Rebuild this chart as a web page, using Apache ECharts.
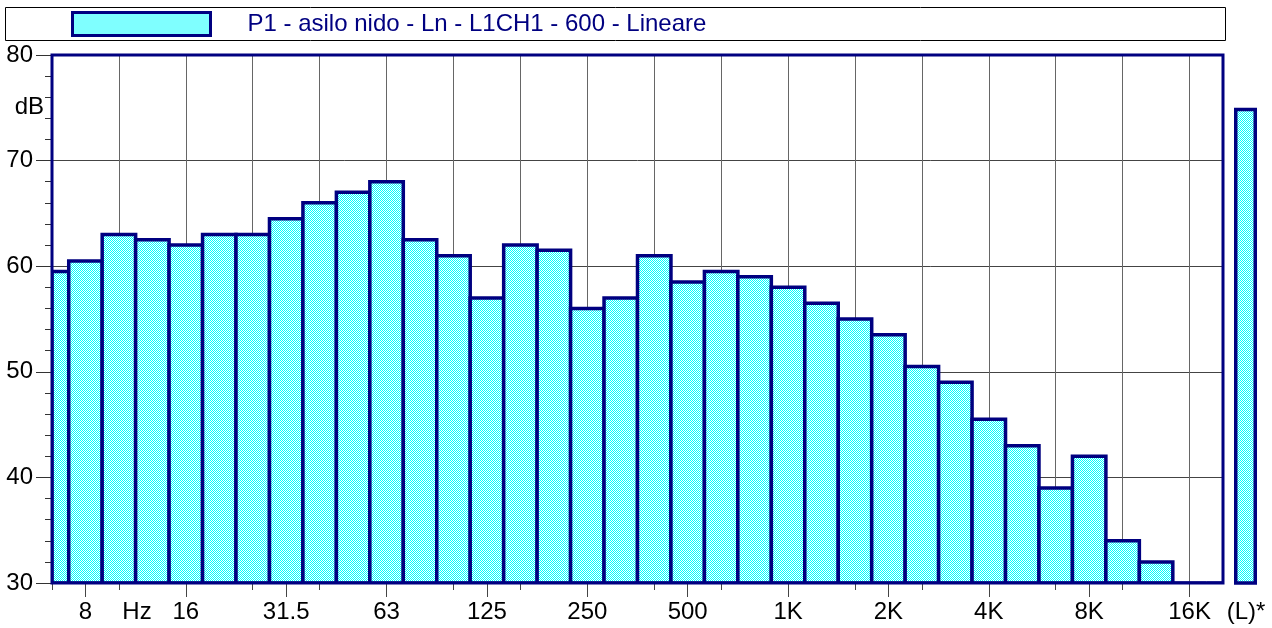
<!DOCTYPE html>
<html>
<head>
<meta charset="utf-8">
<script src="https://cdn.jsdelivr.net/npm/echarts@6/dist/echarts.min.js"></script>
<style>
  html, body { margin: 0; padding: 0; background: #fff; }
  #chart { width: 1272px; height: 628px; }
</style>
</head>
<body>
<div id="chart"></div>
<script>
// bande di terzo d'ottava
const bands = ['6.3', '8', '10', '12.5', '16', '20', '25', '31.5', '40', '50', '63', '80',
  '100', '125', '160', '200', '250', '315', '400', '500', '630', '800', '1K', '1.25K',
  '1.6K', '2K', '2.5K', '3.15K', '4K', '5K', '6.3K', '8K', '10K', '12.5K', '16K', '20K']
// etichette d'ottava mostrate sull'asse
const octaveLabels = ['8', '16', '31.5', '63', '125', '250', '500', '1K', '2K', '4K', '8K', '16K']
// livelli in dB
const levels = [59.5, 60.5, 63, 62.5, 62, 63, 63, 64.5, 66, 67, 68, 62.5,
  61, 57, 62, 61.5, 56, 57, 61, 58.5, 59.5, 59, 58, 56.5,
  55, 53.5, 50.5, 49, 45.5, 43, 39, 42, 34, 32, 30, 30]
// livello globale (L)*
const totalLabel = ['(L)*']
const totalLevel = [75]
const seriesName = 'P1 - asilo nido - Ln - L1CH1 - 600 - Lineare'

const FONT = '"Liberation Sans", Arial, sans-serif'
const NAVY = '#000080'
const Y_MIN = 30

// retino ciano/bianco
function makePattern() {
  const c = document.createElement('canvas')
  c.width = 2
  c.height = 2
  const ctx = c.getContext('2d')
  ctx.fillStyle = '#ffffff'
  ctx.fillRect(0, 0, 2, 2)
  ctx.fillStyle = '#00ffff'
  ctx.fillRect(0, 0, 1, 1)
  ctx.fillRect(1, 1, 1, 1)
  return { image: c, repeat: 'repeat' }
}
const pattern = makePattern()

// barre larghe una banda, tagliate al bordo del grafico
function renderBand(params, api) {
  const top = api.coord([api.value(0), api.value(1)])
  const base = api.coord([api.value(0), Y_MIN])
  const w = api.size([1, 0])[0]
  const cs = params.coordSys
  const shape = echarts.graphic.clipRectByRect(
    { x: top[0] - w / 2, y: top[1], width: w, height: base[1] - top[1] },
    { x: cs.x, y: cs.y, width: cs.width, height: cs.height }
  )
  return shape && { type: 'rect', shape: shape, style: api.style() }
}

const chart = echarts.init(document.getElementById('chart'), null, { renderer: 'canvas' })

const option = {
  animation: false,
  textStyle: { fontFamily: FONT },
  legend: {
    left: 71,
    top: 11,
    padding: 0,
    itemWidth: 138,
    itemHeight: 23,
    icon: 'rect',
    selectedMode: false,
    data: [seriesName],
    itemStyle: { color: pattern, borderColor: NAVY, borderWidth: 3 },
    textStyle: { fontSize: 24, color: NAVY, fontFamily: FONT, padding: [0, 0, 0, 32] }
  },
  grid: [
    { left: 52, top: 55, width: 1171, height: 528 },
    { left: 1234, top: 55, width: 23, height: 528 }
  ],
  xAxis: [
    {
      // tacche brevi su ogni banda
      type: 'category',
      gridIndex: 0,
      data: bands,
      boundaryGap: false,
      axisLine: { show: false },
      axisTick: { show: true, length: 7, lineStyle: { color: '#444' } },
      axisLabel: { show: false },
      splitLine: { show: true, lineStyle: { color: '#666', width: 1 } }
    },
    {
      // tacche lunghe ed etichette d'ottava
      type: 'category',
      gridIndex: 0,
      position: 'bottom',
      data: bands,
      boundaryGap: false,
      axisLine: { show: false },
      axisTick: {
        show: true,
        length: 14,
        interval: (i, v) => octaveLabels.includes(v),
        lineStyle: { color: '#444' }
      },
      axisLabel: {
        interval: 0,
        margin: 17,
        fontSize: 24,
        color: '#000',
        fontFamily: FONT,
        formatter: v => (octaveLabels.includes(v) ? v : '')
      },
      splitLine: { show: false }
    },
    {
      type: 'category',
      gridIndex: 1,
      data: totalLabel,
      show: false
    }
  ],
  yAxis: [
    {
      type: 'value',
      gridIndex: 0,
      min: 30,
      max: 80,
      interval: 10,
      axisLine: { show: false },
      axisTick: { show: true, length: 16, lineStyle: { color: '#333' } },
      minorTick: { show: true, splitNumber: 5, length: 7, lineStyle: { color: '#333' } },
      axisLabel: { margin: 19, fontSize: 24, color: '#000', fontFamily: FONT },
      splitLine: { show: true, lineStyle: { color: '#444', width: 1 } }
    },
    {
      type: 'value',
      gridIndex: 1,
      min: 30,
      max: 80,
      show: false
    }
  ],
  series: [
    {
      name: seriesName,
      type: 'custom',
      xAxisIndex: 0,
      yAxisIndex: 0,
      data: levels.map((v, i) => [bands[i], v]),
      encode: { x: 0, y: 1 },
      renderItem: renderBand,
      clip: true,
      itemStyle: { color: pattern, borderColor: NAVY, borderWidth: 3.5 },
      z: 3
    },
    {
      name: 'totale',
      type: 'bar',
      xAxisIndex: 2,
      yAxisIndex: 1,
      data: totalLevel,
      barWidth: '100%',
      itemStyle: { color: pattern, borderColor: NAVY, borderWidth: 3.5 },
      z: 3
    }
  ],
  graphic: [
    {
      type: 'rect',
      z: -10,
      shape: { x: 5.5, y: 7.5, width: 1220, height: 33 },
      style: { fill: '#fff', stroke: '#000', lineWidth: 1 }
    },
    {
      // cornice dell'area del grafico
      type: 'rect',
      z: 50,
      shape: { x: 52, y: 55, width: 1171, height: 528 },
      style: { fill: 'none', stroke: NAVY, lineWidth: 3 }
    },
    {
      type: 'text',
      z: 50,
      style: { text: 'dB', x: 44, y: 107, align: 'right', verticalAlign: 'middle', fontSize: 24, fontFamily: FONT, fill: '#000' }
    },
    {
      type: 'text',
      z: 50,
      style: { text: 'Hz', x: 137, y: 612, align: 'center', verticalAlign: 'middle', fontSize: 24, fontFamily: FONT, fill: '#000' }
    },
    {
      type: 'text',
      z: 50,
      style: { text: '(L)*', x: 1246, y: 612, align: 'center', verticalAlign: 'middle', fontSize: 24, fontFamily: FONT, fill: '#000' }
    }
  ]
}

chart.setOption(option)
</script>
</body>
</html>
